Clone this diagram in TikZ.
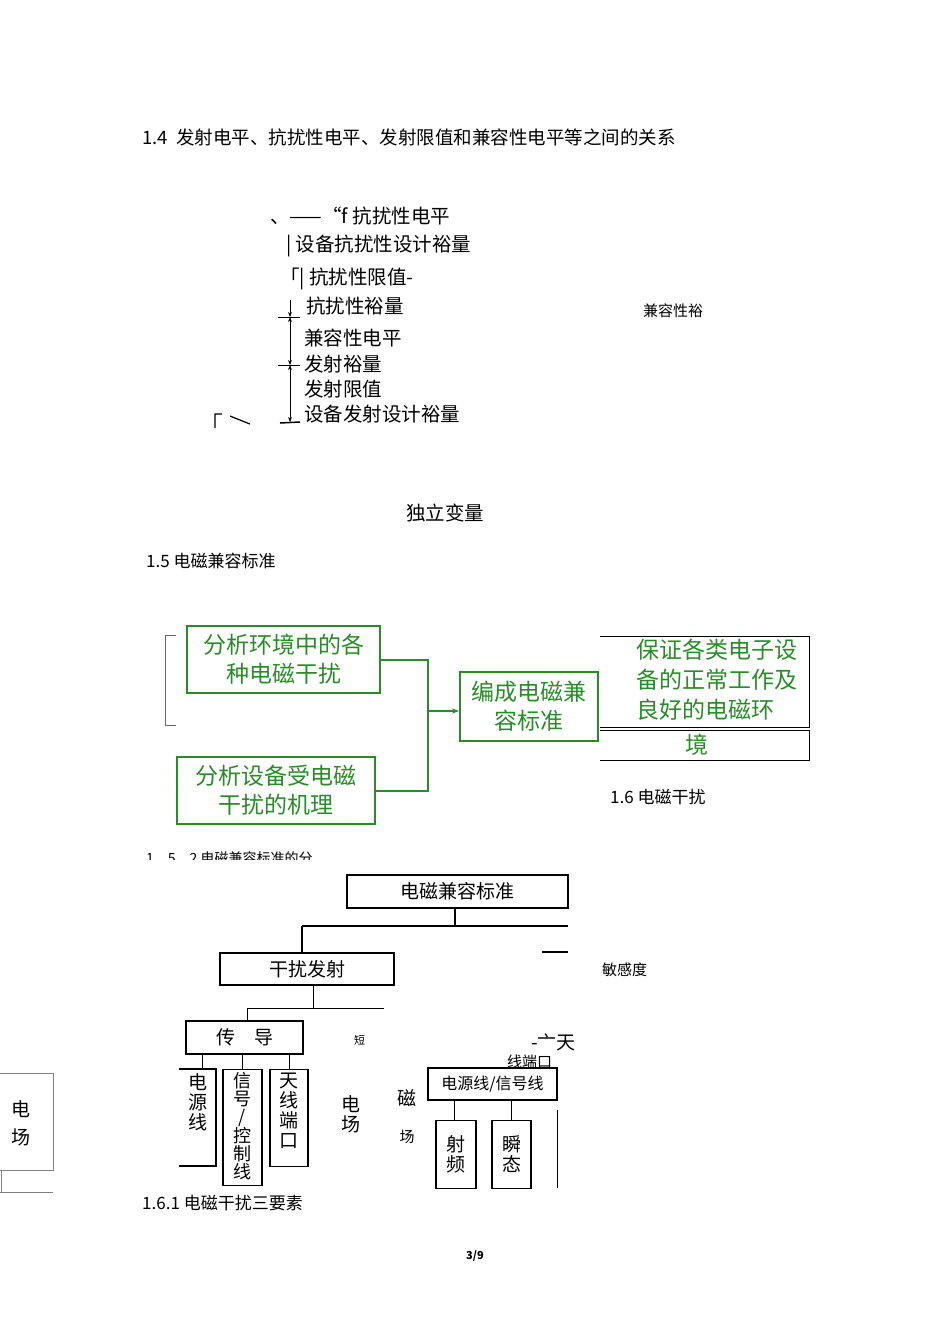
\documentclass[tikz,border=0pt]{standalone}
\usepackage{fontspec}
\setmainfont{Noto Sans CJK SC}
\usetikzlibrary{arrows.meta}
\definecolor{gr}{RGB}{40,140,40}
\begin{document}
\begin{tikzpicture}[x=1pt,y=-1pt,
  txt/.style={anchor=west,inner sep=0pt,font=\fontsize{17}{19}\selectfont},
  lvl/.style={anchor=west,inner sep=0pt,font=\fontsize{19.5}{21}\selectfont},
  small/.style={anchor=west,inner sep=0pt,font=\fontsize{14}{16}\selectfont},
  gbox/.style={draw=gr,line width=2pt,text=gr,align=center,font=\fontsize{23}{29}\selectfont,inner sep=0pt},
  bbox/.style={draw,line width=1.6pt,font=\fontsize{19}{20}\selectfont,inner sep=0pt},
  vbox/.style={draw,line width=1.4pt,inner sep=0pt,anchor=north},
  vt/.style={font=\fontsize{19}{20}\selectfont,align=center,inner sep=0pt}]
\fill[white] (0,0) rectangle (950,1344);
\useasboundingbox (0,0) rectangle (950,1344);
% 1.4
\node[txt,font=\fontsize{18.5}{19}\selectfont] (t14) at (142,137) {1.4\ \ 发射电平、抗扰性电平、发射限值和兼容性电平等之间的关系};
\node[lvl] (l1) at (270,216) {、——“f 抗扰性电平};
\node[lvl] (l2) at (286,246) {| 设备抗扰性设计裕量};
\node[lvl] (l3) at (280,279) {「| 抗扰性限值-};
\node[lvl] (l4) at (306,306) {抗扰性裕量};
\node[lvl] (l5) at (304,338) {兼容性电平};
\node[lvl] (l6) at (304,364) {发射裕量};
\node[lvl] (l7) at (304,389) {发射限值};
\node[lvl] (l8) at (304,414) {设备发射设计裕量};
\node[small,font=\fontsize{15}{16}\selectfont] (jr) at (643,311) {兼容性裕};
\coordinate (a0) at (290,300); \coordinate (a1) at (290,317);
\coordinate (a2) at (290,365); \coordinate (a3) at (290,422);
\draw[-{Stealth[length=5pt]}] (a0) -- (a1);
\draw[{Stealth[length=5pt]}-{Stealth[length=5pt]}] (a1) -- (a2);
\draw[{Stealth[length=5pt]}-{Stealth[length=5pt]}] (a2) -- (a3);
\draw (278,317) -- (300,317); \draw (278,365) -- (300,365);
\draw[line width=1.5pt] (280,423) -- (300,422);
\draw[line width=1.2pt] (215,428) -- (215,414) -- (222,414) (230,416) -- (250,424);
\node[lvl,anchor=center] (dl) at (445,513) {独立变量};
% 1.5
\node[txt] (t15) at (146,561) {1.5 电磁兼容标准};
\node[gbox,minimum width=193pt,minimum height=67pt] (g1) at (283.5,659.5) {分析环境中的各\\种电磁干扰};
\node[gbox,minimum width=198pt,minimum height=67pt] (g2) at (276,790.5) {分析设备受电磁\\干扰的机理};
\node[gbox,minimum width=138pt,minimum height=69pt] (g3) at (529,706.5) {编成电磁兼\\容标准};
\coordinate (jx) at (428,711);
\draw[gr,line width=2pt] (g1.east) -| (jx) |- (g2.east);
\draw[gr,line width=2.6pt,-{Stealth[length=7pt]}] (jx) -- (g3.west |- jx);
\draw[gray!80!black] (176,635) -- (165,635) -- (165,725) -- (176,725);
\draw (600,636) -- (809,636) -- (809,727) -- (600,727);
\draw (600,730) -- (809,730) -- (809,760) -- (600,760);
\node[text=gr,align=left,font=\fontsize{23}{30}\selectfont,inner sep=0pt,anchor=north west] (gt) at (636,639) {保证各类电子设\\备的正常工作及\\良好的电磁环};
\node[text=gr,font=\fontsize{23}{24}\selectfont,inner sep=0pt] (gj) at (697,745) {境};
\node[txt] (t16) at (610,797) {1.6 电磁干扰};
\node[small] (t152) at (146,858) {1．5．2 电磁兼容标准的分};
\fill[white] (140,860) rectangle (400,870);
% tree
\node[bbox,minimum width=221pt,minimum height=33pt] (r) at (457.5,891.5) {电磁兼容标准};
\node[bbox,minimum width=174pt,minimum height=32pt] (gf) at (307,969) {干扰发射};
\draw[line width=1.6pt] (455,908) -- (455,926);
\draw[line width=1.6pt] (302,926) -- (568,926);
\draw[line width=1.6pt] (302,926) -- (302,953);
\draw[line width=1.4pt] (542,952) -- (568,952);
\node[small,font=\fontsize{15}{16}\selectfont] (mg) at (602,970) {敏感度};
\draw (313,986) -- (313,1008);
\draw (247,1008) -- (384,1008);
\draw (247,1008) -- (247,1021);
\node[bbox,minimum width=117pt,minimum height=33pt] (cd) at (244.5,1037.5) {传\quad 导};
\node[small,font=\fontsize{11}{12}\selectfont] (dn) at (354,1040) {短};
\draw (202,1054) -- (202,1069) (242,1054) -- (242,1069) (289,1054) -- (289,1069);
\draw[line width=1.4pt] (179,1166) -- (216,1166) -- (216,1069) -- (179,1069);
\node[vt,anchor=north] (dy) at (198,1073) {电\\源\\线};
\node[vbox,minimum width=39pt,minimum height=116pt] (xh) at (242.5,1069) {};
\node[vt,anchor=north,font=\fontsize{18}{18}\selectfont] (xht) at (242.5,1072) {信\\号\\/\\控\\制\\线};
\node[vbox,minimum width=38pt,minimum height=97pt] (tx) at (289,1069) {};
\node[vt,anchor=north] (txt2) at (289,1073) {天\\线\\端\\口};
\node[vt] (dc) at (351,1114) {电\\场};
\node[vt] (ci) at (407,1098) {磁};
\node[font=\fontsize{15}{16}\selectfont,inner sep=0pt] (ch) at (407,1137) {场};
\node[txt,font=\fontsize{19}{20}\selectfont] (yt) at (531,1042) {-亠天};
\node[small,font=\fontsize{15}{16}\selectfont] (xd) at (507,1062) {线端口};
\node[bbox,minimum width=129pt,minimum height=32pt,font=\fontsize{16}{18}\selectfont] (dx) at (492.5,1084) {电源线/信号线};
\draw (454,1100) -- (454,1120) (511,1100) -- (511,1120);
\node[vbox,minimum width=40pt,minimum height=68pt] (sp) at (456,1120) {};
\node[vt] (spt) at (456,1154) {射\\频};
\node[vbox,minimum width=39pt,minimum height=68pt] (st) at (511.5,1120) {};
\node[vt] (stt) at (511.5,1154) {瞬\\态};
\draw (557,1110) -- (557,1188);
\draw[gray] (0,1073) -- (53,1073) -- (53,1170) -- (0,1170) (0,1192) -- (53,1192) (1,1170) -- (1,1192);
\node[font=\fontsize{19}{28}\selectfont,align=center,inner sep=0pt] (ldc) at (21,1123) {电\\场};
\node[txt] (t161) at (142,1203) {1.6.1 电磁干扰三要素};
\node[inner sep=0pt,font=\fontsize{11}{12}\selectfont\bfseries] (pg) at (475,1256) {3/9};
\end{tikzpicture}
\end{document}
